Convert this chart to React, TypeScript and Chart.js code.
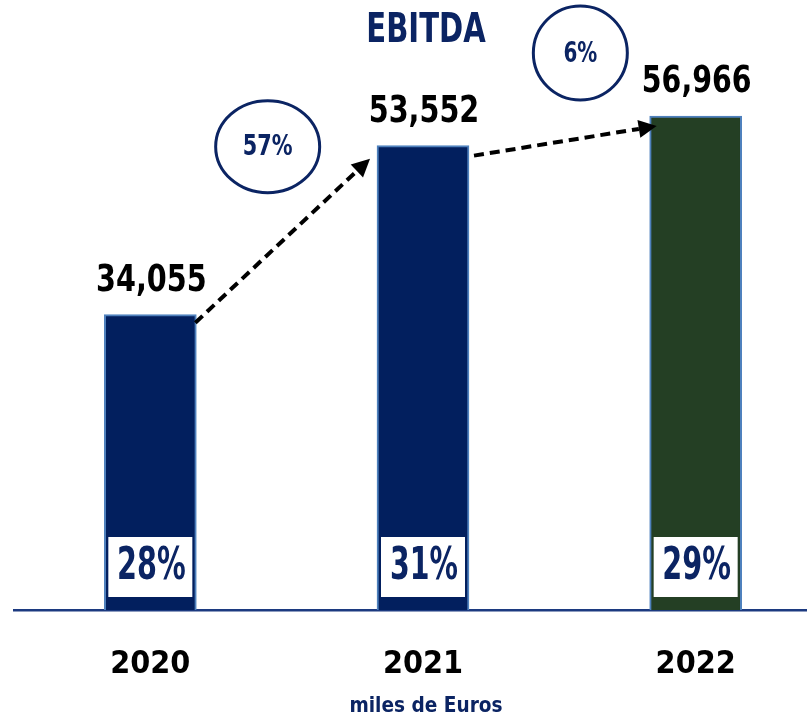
import React, { useEffect, useRef } from "react";
import { Chart, registerables } from "chart.js";

Chart.register(...registerables);

const years = ["2020", "2021", "2022"];
const ebitda = [34055, 53552, 56966];
const margins = [28, 31, 29];
const growth = [57, 6];
const chartTitle = "EBITDA";
const unitLabel = "miles de Euros";

const FONT = "'DejaVu Sans Condensed', 'DejaVu Sans', sans-serif";
const NAVY = "#0b2463";
const BAR_NAVY = "#021f5e";
const BAR_GREEN = "#243f24";
const BAR_BORDER = "#4f81bd";

function fmt(v: number) {
  return v.toLocaleString("en-US");
}

// draws text squeezed horizontally to mimic a condensed face
function drawText(
  ctx: CanvasRenderingContext2D,
  text: string,
  x: number,
  y: number,
  font: string,
  targetWidth: number,
  color: string,
  baseline: CanvasTextBaseline
) {
  ctx.save();
  ctx.font = font;
  ctx.fillStyle = color;
  ctx.textAlign = "center";
  ctx.textBaseline = baseline;
  const m = ctx.measureText(text);
  const ink = m.actualBoundingBoxLeft + m.actualBoundingBoxRight;
  const sx = ink > 0 ? Math.min(1, targetWidth / ink) : 1;
  ctx.translate(x, y);
  ctx.scale(sx, 1);
  ctx.fillText(text, 0, 0);
  ctx.restore();
}

function drawArrow(ctx: CanvasRenderingContext2D, x1: number, y1: number, x2: number, y2: number) {
  const ang = Math.atan2(y2 - y1, x2 - x1);
  const head = 18;
  const half = 9;
  const bx = x2 - head * Math.cos(ang);
  const by = y2 - head * Math.sin(ang);
  ctx.save();
  ctx.strokeStyle = "#000";
  ctx.lineWidth = 4;
  ctx.setLineDash([10, 6]);
  ctx.beginPath();
  ctx.moveTo(x1, y1);
  ctx.lineTo(bx, by);
  ctx.stroke();
  ctx.setLineDash([]);
  ctx.fillStyle = "#000";
  ctx.beginPath();
  ctx.moveTo(x2, y2);
  ctx.lineTo(bx + half * Math.sin(ang), by - half * Math.cos(ang));
  ctx.lineTo(bx - half * Math.sin(ang), by + half * Math.cos(ang));
  ctx.closePath();
  ctx.fill();
  ctx.restore();
}

function drawBubble(ctx: CanvasRenderingContext2D, cx: number, cy: number, rx: number, ry: number, text: string, w: number) {
  ctx.save();
  ctx.strokeStyle = NAVY;
  ctx.lineWidth = 3;
  ctx.beginPath();
  ctx.ellipse(cx, cy, rx, ry, 0, 0, Math.PI * 2);
  ctx.stroke();
  ctx.restore();
  drawText(ctx, text, cx, cy + 1, `bold 29px ${FONT}`, w, NAVY, "middle");
}

const annotations = {
  id: "annotations",
  afterDatasetsDraw(chart: any) {
    const ctx: CanvasRenderingContext2D = chart.ctx;
    const bars = chart.getDatasetMeta(0).data;
    const xs = chart.scales.x;

    // value labels
    bars.forEach((b: any, i: number) => {
      drawText(ctx, fmt(ebitda[i]), b.x + 1, b.y - 24, `bold 37px ${FONT}`, 107, "#000", "alphabetic");
    });

    // margin boxes
    bars.forEach((b: any, i: number) => {
      const w = 84;
      const h = 60;
      const top = b.base - 13 - h;
      ctx.save();
      ctx.fillStyle = "#fff";
      ctx.fillRect(b.x - w / 2, top, w, h);
      ctx.restore();
      drawText(ctx, `${margins[i]}%`, b.x + 1, top + h / 2 + 1, `bold 44px ${FONT}`, 66, NAVY, "middle");
    });

    // arrows
    const [b0, b1, b2] = bars as any[];
    drawArrow(ctx, b0.x + b0.width / 2 - 1, b0.y + 8, b1.x - b1.width / 2 - 7, b1.y + 13);
    drawArrow(ctx, b1.x + b1.width / 2 + 5, b1.y + 10, b2.x - b2.width / 2 + 7, b2.y + 10);

    // growth bubbles
    drawBubble(ctx, (b0.x + b1.x) / 2 - 19, b1.y + 1, 52, 46, `${growth[0]}%`, 48);
    drawBubble(ctx, (b1.x + b2.x) / 2 + 21, b2.y - 63, 47, 47, `${growth[1]}%`, 33);

    // title and unit label, centred on middle category
    const mid = xs.getPixelForValue(1) + 3;
    drawText(ctx, chartTitle, mid, 32, `bold 40px ${FONT}`, 117, NAVY, "middle");
    drawText(ctx, unitLabel, mid, 707, `bold 21px ${FONT}`, 152, NAVY, "middle");
  },
};

export default function App() {
  const ref = useRef<HTMLCanvasElement | null>(null);

  useEffect(() => {
    if (!ref.current) return;
    const chart = new Chart(ref.current, {
      type: "bar",
      data: {
        labels: years,
        datasets: [
          {
            data: ebitda,
            backgroundColor: [BAR_NAVY, BAR_NAVY, BAR_GREEN],
            borderColor: BAR_BORDER,
            borderWidth: 2,
            barThickness: 92,
          },
        ],
      },
      options: {
        responsive: false,
        animation: false,
        devicePixelRatio: 1,
        layout: { padding: { left: 14, right: 0, top: 3, bottom: 0 } },
        plugins: { legend: { display: false }, tooltip: { enabled: false }, title: { display: false } },
        scales: {
          y: { display: false, min: 0, max: 70000 },
          x: {
            grid: { display: false, drawTicks: false },
            border: { display: true, color: "#1c3a80", width: 2.5 },
            ticks: {
              color: "#000",
              font: { family: FONT, size: 32, weight: "bold" },
              padding: 35,
            },
            afterFit(scale: any) {
              scale.height = 110;
            },
          },
        },
      },
      plugins: [annotations],
    });
    return () => chart.destroy();
  }, []);

  return (
    <div style={{ position: "absolute", left: 0, top: 0, width: 807, height: 720, overflow: "hidden", background: "#fff" }}>
      <canvas ref={ref} width={832} height={720} style={{ display: "block" }} />
    </div>
  );
}
